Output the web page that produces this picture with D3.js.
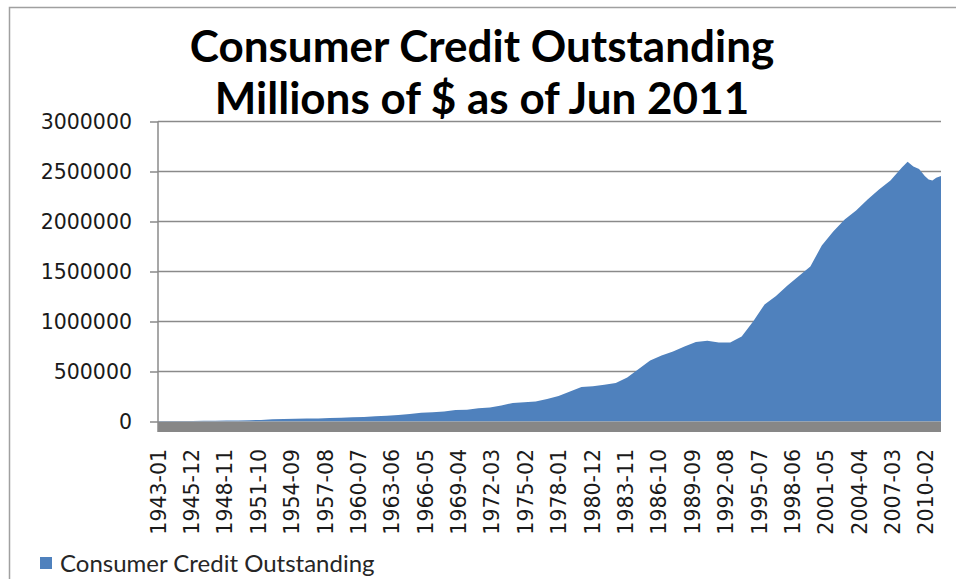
<!DOCTYPE html>
<html>
<head>
<meta charset="utf-8">
<script src="https://cdn.jsdelivr.net/npm/d3@7/dist/d3.min.js"></script>
<style>
  html, body { margin: 0; padding: 0; background: #fff; }
  svg { display: block; }
</style>
</head>
<body>
<svg id="chart" width="956" height="579"></svg>
<script>
// ---- data ----
const titleLines = ["Consumer Credit Outstanding", "Millions of $ as of Jun 2011"];
const seriesName = "Consumer Credit Outstanding";
const firstYear = 1943, lastYear = 2011, lastMonth = 6;
const yTicks = [0, 500000, 1000000, 1500000, 2000000, 2500000, 3000000];
const labelEvery = 35; // x tick label every 35 months

// points (month, value in millions $)
const pointMonths = [
  "1943-01","1944-01","1945-01","1946-01","1947-01","1948-01","1949-01","1950-01","1951-01","1952-01",
  "1953-01","1954-01","1955-01","1956-01","1957-01","1958-01","1959-01","1960-01","1961-01","1962-01",
  "1963-01","1964-01","1965-01","1966-01","1967-01","1968-01","1969-01","1970-01","1971-01","1972-01",
  "1973-01","1974-01","1975-01","1976-01","1977-01","1978-01","1979-01","1980-01","1981-01","1982-01",
  "1983-01","1984-01","1985-01","1986-01","1987-01","1988-01","1989-01","1990-01","1991-01","1992-01",
  "1993-01","1994-01","1995-01","1996-01","1997-01","1998-01","1999-01","2000-01","2001-01","2002-01",
  "2003-01","2004-01","2005-01","2006-01","2007-01","2008-01","2008-07","2009-01","2009-07","2010-01",
  "2010-05","2010-09","2011-01","2011-06"
];
const pointValues = [
  5000,4500,5000,5500,7000,8500,10000,11000,13000,15000,
  22000,25000,27000,29000,31000,34000,38000,42000,46000,52000,
  58000,65000,75000,88000,92000,100000,115000,118000,132000,140000,
  160000,185000,192000,200000,225000,255000,300000,345000,352000,368000,
  385000,440000,525000,610000,660000,700000,750000,795000,808000,790000,
  790000,850000,1000000,1170000,1255000,1360000,1455000,1550000,1760000,1900000,
  2020000,2110000,2220000,2320000,2410000,2540000,2598000,2550000,2525000,2455000,
  2420000,2410000,2438000,2455000
];

// category axis: every month
const months = [];
for (let y = firstYear; y <= lastYear; y++) {
  for (let m = 1; m <= 12; m++) {
    if (y === lastYear && m > lastMonth) break;
    months.push(y + "-" + String(m).padStart(2, "0"));
  }
}
const data = pointMonths.map((d, i) => ({ month: d, value: pointValues[i] }));

// ---- layout ----
const svg = d3.select("#chart");
const plot = { left: 158, right: 941, top: 121.5, bottom: 421.5 };

const x = d3.scalePoint().domain(months).range([plot.left, plot.right]);
const y = d3.scaleLinear().domain([0, 3000000]).range([plot.bottom, plot.top]);

// outer chart border
svg.append("rect")
  .attr("x", 9.5).attr("y", 7.5).attr("width", 1000).attr("height", 700)
  .attr("fill", "none").attr("stroke", "#a0a0a0").attr("stroke-width", 1.5);

// gridlines
svg.append("g").selectAll("line").data(yTicks.filter(d => d > 0)).join("line")
  .attr("x1", plot.left).attr("x2", plot.right)
  .attr("y1", d => y(d)).attr("y2", d => y(d))
  .attr("stroke", "#8a8a8a").attr("stroke-width", 1.5);

// area
const area = d3.area()
  .x(d => x(d.month))
  .y0(y(0))
  .y1(d => y(d.value));
svg.append("path").datum(data)
  .attr("d", area)
  .attr("fill", "#4f81bd");

// floor band
svg.append("rect")
  .attr("x", plot.left).attr("y", y(0))
  .attr("width", plot.right - plot.left).attr("height", 10.5)
  .attr("fill", "#878787");

// y axis
const yAxis = d3.axisLeft(y).tickValues(yTicks).tickSize(8).tickPadding(18)
  .tickFormat(d3.format("d"));
const gy = svg.append("g").attr("transform", `translate(${plot.left},0)`).call(yAxis);
gy.select(".domain").attr("stroke", "#8a8a8a").attr("stroke-width", 1.5)
  .attr("d", `M0,${plot.top}V${y(0) + 10.5}`);
gy.selectAll(".tick line").attr("stroke", "#8a8a8a").attr("stroke-width", 1.5);
gy.selectAll(".tick text")
  .attr("font-family", "'DejaVu Sans', Verdana, sans-serif")
  .attr("font-size", 20.5).attr("fill", "#1a1a1a");

// x axis labels
const xAxis = d3.axisBottom(x)
  .tickValues(months.filter((d, i) => i % labelEvery === 0))
  .tickSize(0).tickPadding(0);
const gx = svg.append("g").attr("transform", `translate(0,${y(0) + 10.5})`).call(xAxis);
gx.select(".domain").remove();
gx.selectAll(".tick text")
  .attr("font-family", "'DejaVu Sans', Verdana, sans-serif")
  .attr("font-size", 20.5).attr("fill", "#1a1a1a")
  .attr("transform", "rotate(-90)")
  .attr("text-anchor", "end")
  .attr("x", -17).attr("y", 0).attr("dy", "0.35em");

// title
svg.append("g").selectAll("text").data(titleLines).join("text")
  .attr("x", 482).attr("y", (d, i) => 62 + i * 52)
  .attr("text-anchor", "middle")
  .attr("font-family", "Lato, 'Open Sans', sans-serif")
  .attr("font-weight", "bold").attr("font-size", 44)
  .attr("fill", "#000")
  .text(d => d);

// legend
const lg = svg.append("g");
lg.append("rect").attr("x", 40).attr("y", 557).attr("width", 12).attr("height", 12)
  .attr("fill", "#4f81bd");
lg.append("text").attr("x", 60).attr("y", 572)
  .attr("font-family", "Lato, 'Open Sans', sans-serif")
  .attr("font-size", 24).attr("fill", "#262626")
  .text(seriesName);
</script>
</body>
</html>
